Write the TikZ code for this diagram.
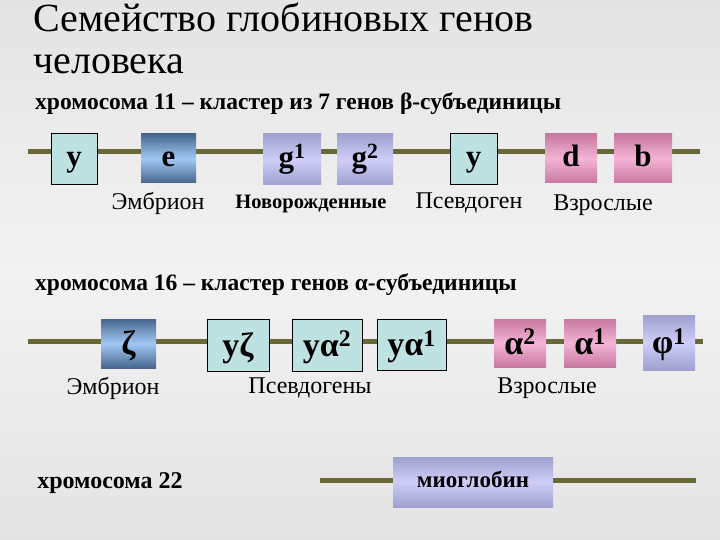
\documentclass[tikz,border=0pt]{standalone}
\usepackage{fontspec}
\setmainfont{Liberation Serif}
\definecolor{bgA}{RGB}{228,228,228}
\definecolor{bgB}{RGB}{242,242,242}
\definecolor{chrom}{RGB}{104,104,56}
\definecolor{tealbox}{RGB}{190,226,226}
\definecolor{blueE}{RGB}{72,102,140}
\definecolor{blueM}{RGB}{160,200,245}
\definecolor{lavE}{RGB}{160,160,208}
\definecolor{lavM}{RGB}{206,206,248}
\definecolor{pinkE}{RGB}{200,120,160}
\definecolor{pinkM}{RGB}{244,180,214}
\tikzset{
  chromline/.style={line width=5pt, draw=chrom},
  gene/.style={inner sep=0pt, font=\bfseries\fontsize{31}{31}\selectfont, text=black,
               text height=20pt, text depth=4pt},
  pseudo/.style={gene, fill=tealbox, draw=black, line width=0.8pt},
  embryo/.style={gene, top color=blueE, bottom color=blueE, middle color=blueM},
  lav/.style={gene, top color=lavE, bottom color=lavE, middle color=lavM},
  pink/.style={gene, top color=pinkE, bottom color=pinkE, middle color=pinkM},
  big/.style={font=\bfseries\fontsize{34}{34}\selectfont, text height=26pt, text depth=4pt},
  lbl/.style={inner sep=0pt, font=\fontsize{24}{24}\selectfont},
  head/.style={inner sep=0pt, anchor=base west, font=\bfseries\fontsize{23.5}{23.5}\selectfont},
  titl/.style={inner sep=0pt, anchor=base west, font=\fontsize{40}{40}\selectfont},
}
\begin{document}
\begin{tikzpicture}[x=1pt,y=-1pt]
\shade[top color=bgA, bottom color=bgA, middle color=bgB] (0,0) rectangle (720,540);
\useasboundingbox (0,0) rectangle (720,540);

% title
\node[titl] (t1) at (33,32) {Семейство глобиновых генов};
\node[titl] (t2) at (33,74) {человека};

% chromosome 11
\node[head] (h11) at (35,110) {хромосома 11 – кластер из 7 генов β-субъединицы};
\coordinate (a11) at (28,152);
\coordinate (b11) at (700,152);
\draw[chromline] (a11) -- (b11);
\node[pseudo, minimum width=46pt, minimum height=51pt] (y1) at (74,158.5) {y};
\node[embryo, minimum width=55pt, minimum height=49pt] (e1) at (168.5,158.5) {e};
\node[lav, minimum width=58pt, minimum height=51pt] (g1) at (292,159.5) {g\textsuperscript{1}};
\node[lav, minimum width=56pt, minimum height=51pt] (g2) at (365,159.5) {g\textsuperscript{2}};
\node[pseudo, minimum width=47pt, minimum height=51pt] (y2) at (473.5,158.5) {y};
\node[pink, minimum width=52pt, minimum height=49pt] (d1) at (571,158.5) {d};
\node[pink, minimum width=58pt, minimum height=49pt] (b1) at (643,158.5) {b};
\node[lbl] (l1) at (158,203) {Эмбрион};
\node[lbl, font=\bfseries\fontsize{20.5}{20.5}\selectfont] (l2) at (311,204) {Новорожденные};
\node[lbl] (l3) at (469,203) {Псевдоген};
\node[lbl] (l4) at (603,205) {Взрослые};

% chromosome 16
\node[head] (h16) at (35,290) {хромосома 16 – кластер генов α-субъединицы};
\coordinate (a16) at (28,341);
\coordinate (b16) at (703,341);
\draw[chromline] (a16) -- (b16);
\node[embryo, big, minimum width=55pt, minimum height=49pt] (z1) at (128.5,343.5) {ζ};
\node[pseudo, big, minimum width=62pt, minimum height=52pt] (yz) at (238,345) {yζ};
\node[pseudo, big, minimum width=70pt, minimum height=52pt] (ya2) at (327,345) {yα\textsuperscript{2}};
\node[pseudo, big, minimum width=69pt, minimum height=51pt] (ya1) at (411.5,344.5) {yα\textsuperscript{1}};
\node[pink, big, minimum width=52pt, minimum height=48pt] (a2) at (520,343) {α\textsuperscript{2}};
\node[pink, big, minimum width=52pt, minimum height=48pt] (a1) at (590,343) {α\textsuperscript{1}};
\node[lav, big, minimum width=52pt, minimum height=55pt] (f1) at (669,342.5) {φ\textsuperscript{1}};
\node[lbl] (m1) at (113,388) {Эмбрион};
\node[lbl] (m2) at (310,388) {Псевдогены};
\node[lbl] (m3) at (547,388) {Взрослые};

% chromosome 22
\node[inner sep=0pt, font=\bfseries\fontsize{24}{24}\selectfont] (h22) at (110,483) {хромосома 22};
\coordinate (a22) at (320,480);
\coordinate (b22) at (696,480);
\draw[chromline] (a22) -- (b22);
\node[lav, font=\bfseries\fontsize{23}{23}\selectfont, text height=16pt, text depth=5pt, minimum width=160pt, minimum height=50pt] (mg) at (473,482) {миоглобин};
\end{tikzpicture}
\end{document}
